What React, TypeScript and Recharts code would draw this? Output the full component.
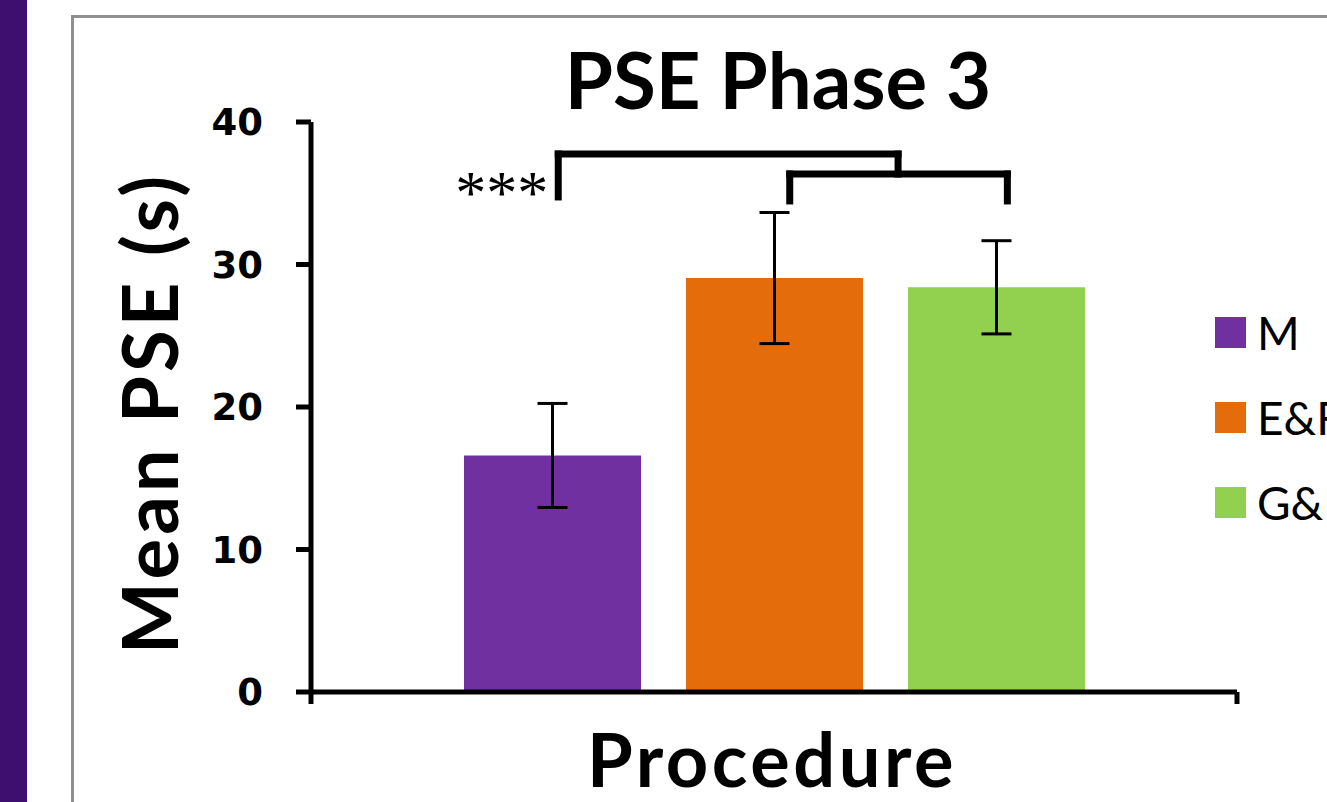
import React from "react";
import {
  BarChart,
  Bar,
  XAxis,
  YAxis,
  ErrorBar,
  ReferenceLine,
  ReferenceDot,
  Legend,
} from "recharts";

const categories = ["Procedure"];
const seriesNames = ["M", "E&F", "G&F"];
const seriesKeys = ["m", "ef", "gf"];
const seriesColors = ["#7030a0", "#e46c0a", "#92d050"];
const meanValues = [16.6, 29.05, 28.4];
const errorValues = [3.65, 4.6, 3.27];
const yTicks = [0, 10, 20, 30, 40];

// significance brackets: x as a share of the plot width, y in seconds
const bracketLeft = [0.267, 0.517];
const bracketRight = [0.634, 0.752];
const bracketTop = [37.75, 36.35];
const bracketLeftFoot = [34.74, 34.46];
const bracketRightFoot = [36.35, 34.46];

const data = categories.map((name) => {
  const row: any = { name };
  seriesKeys.forEach((k, i) => {
    row[k] = meanValues[i];
    row[k + "Err"] = errorValues[i];
  });
  return row;
});

const AXIS = { stroke: "#000", strokeWidth: 5 };

const YLabel = (props: any) => {
  const vb = props.viewBox;
  return (
    <text
      transform={`translate(${vb.x - 33}, ${vb.y + vb.height / 2 + 6}) rotate(-90)`}
      textAnchor="middle"
      fontFamily="Lato"
      fontWeight={700}
      fontSize={76}
      letterSpacing={4}
      fill="#000"
    >
      Mean PSE (s)
    </text>
  );
};

const XLabel = (props: any) => {
  const vb = props.viewBox;
  return (
    <text
      x={vb.x + vb.width / 2 - 2}
      y={vb.y + 95}
      textAnchor="middle"
      fontFamily="Lato"
      fontWeight={700}
      fontSize={74}
      letterSpacing={3.5}
      fill="#000"
    >
      Procedure
    </text>
  );
};

const StarLabel = (props: any) => {
  const vb = props.viewBox;
  return (
    <text
      x={vb.x - 10}
      y={vb.y + 16}
      textAnchor="end"
      fontFamily="Liberation Serif"
      fontSize={62}
      fill="#000"
    >
      ***
    </text>
  );
};

const renderLegend = (props: any) => {
  const items = [...(props.payload || [])].sort(
    (a: any, b: any) => seriesNames.indexOf(a.value) - seriesNames.indexOf(b.value)
  );
  return (
    <div>
      {items.map((entry: any) => (
        <div
          key={entry.value}
          style={{ display: "flex", alignItems: "center", height: 85 }}
        >
          <span
            style={{
              width: 31,
              height: 31,
              background: entry.color,
              marginRight: 11,
              display: "inline-block",
            }}
          />
          <span
            style={{
              fontFamily: "Lato",
              fontSize: 46,
              lineHeight: 1,
              color: "#000",
              whiteSpace: "nowrap",
            }}
          >
            {entry.value}
          </span>
        </div>
      ))}
    </div>
  );
};

const App: React.FC = () => {
  const brackets = bracketLeft.map((l, i) => ({
    l,
    r: bracketRight[i],
    top: bracketTop[i],
    lf: bracketLeftFoot[i],
    rf: bracketRightFoot[i],
  }));

  return (
    <div
      style={{
        position: "absolute",
        left: 0,
        top: 0,
        width: 1327,
        height: 802,
        overflow: "hidden",
        background: "#fff",
      }}
    >
      <div
        style={{
          position: "absolute",
          left: 0,
          top: 0,
          width: 27,
          height: 802,
          background: "#3f0f70",
        }}
      />
      <div
        style={{
          position: "absolute",
          left: 71,
          top: 15,
          width: 1400,
          height: 900,
          border: "3px solid #8f8f8f",
        }}
      />
      <div
        style={{
          position: "absolute",
          left: 378,
          top: 40,
          width: 800,
          textAlign: "center",
          fontFamily: "Lato",
          fontWeight: 700,
          fontSize: 78,
          lineHeight: 1,
          color: "#000",
        }}
      >
        PSE Phase 3
      </div>
      <div style={{ position: "absolute", left: 0, top: 0 }}>
        <BarChart
          width={1327}
          height={802}
          data={data}
          margin={{ top: 122, right: 90, left: 211, bottom: 0 }}
          barSize={177}
          barGap={45}
        >
          <XAxis
            xAxisId="edge"
            dataKey="frac"
            type="number"
            scale="linear"
            domain={[0, 1]}
            allowDataOverflow
            ticks={[0, 1]}
            tickFormatter={() => ""}
            tickSize={12}
            axisLine={AXIS}
            tickLine={AXIS}
            height={110}
            label={{ content: XLabel }}
          />
          <XAxis xAxisId="cat" dataKey="name" hide height={0} />
          <YAxis
            domain={[0, 40]}
            ticks={yTicks}
            interval={0}
            width={100}
            tickSize={15}
            tickMargin={33}
            axisLine={AXIS}
            tickLine={AXIS}
            tick={{
              fill: "#000",
              fontSize: 37,
              fontFamily: "DejaVu Sans",
              fontWeight: 700,
            }}
            label={{ content: YLabel }}
          />
          <Legend
            layout="vertical"
            align="center"
            verticalAlign="middle"
            wrapperStyle={{ left: 1215, top: 290, width: "auto" }}
            content={renderLegend}
          />
          {seriesKeys.map((k, i) => (
            <Bar
              key={k}
              xAxisId="cat"
              dataKey={k}
              name={seriesNames[i]}
              fill={seriesColors[i]}
              isAnimationActive={false}
            >
              <ErrorBar
                dataKey={k + "Err"}
                width={15}
                stroke="#000"
                strokeWidth={3}
                isAnimationActive={false}
              />
            </Bar>
          ))}
          {brackets.map((b, i) => (
            <React.Fragment key={i}>
              <ReferenceLine
                xAxisId="edge"
                segment={[
                  { x: b.l, y: b.top },
                  { x: b.r, y: b.top },
                ]}
                stroke="#000"
                strokeWidth={7}
                strokeLinecap="square"
              />
              <ReferenceLine
                xAxisId="edge"
                segment={[
                  { x: b.l, y: b.lf },
                  { x: b.l, y: b.top },
                ]}
                stroke="#000"
                strokeWidth={7}
                strokeLinecap="square"
              />
              <ReferenceLine
                xAxisId="edge"
                segment={[
                  { x: b.r, y: b.rf },
                  { x: b.r, y: b.top },
                ]}
                stroke="#000"
                strokeWidth={7}
                strokeLinecap="square"
              />
            </React.Fragment>
          ))}
          <ReferenceDot
            xAxisId="edge"
            x={bracketLeft[0]}
            y={bracketLeftFoot[0]}
            r={0}
            fill="none"
            stroke="none"
            label={{ content: StarLabel }}
          />
        </BarChart>
      </div>
    </div>
  );
};

export default App;
